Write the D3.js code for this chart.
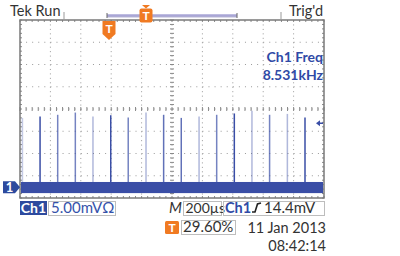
<!DOCTYPE html>
<html>
<head>
<meta charset="utf-8">
<script src="https://cdn.jsdelivr.net/npm/d3@7"></script>
<style>
body { margin: 0; background: #fff; }
svg text { font-family: Lato, "Open Sans", sans-serif; }
</style>
</head>
<body>
<div class="scope"></div>
<script>
// time of each pulse from left screen edge (us) and its peak (mV)
var spikeTimes = [16, 132, 248, 364, 480, 597, 712, 829, 945, 1061, 1178, 1294, 1410, 1526, 1642, 1759, 1875];
var spikePeaks = [15.6, 15.9, 16.3, 16.8, 15.9, 16.2, 15.7, 16.8, 16.3, 15.6, 15.9, 16.3, 16.6, 17.2, 16.3, 16.5, 15.7];
var spikeShade = [0.3, 1, 0.7, 0.7, 0.4, 1, 0.7, 0.4, 0.8, 0.8, 0.4, 0.7, 1, 0.4, 0.7, 0.4, 1];
var noiseBand = [-1.3, 1.2];    // mV
var trigLevel = 14.4;           // mV
var xTicks = d3.range(0, 2001, 200);   // 200us/div
var yTicks = d3.range(-2.4, 38, 5);    // 5mV/div

var W = 400, H = 256;
var blue = "#3a4ea6", orange = "#f07a22", grey = "#8a8a8a";

var svg = d3.select(".scope").append("svg")
    .attr("width", W).attr("height", H);

var x = d3.scaleLinear().domain([0, 2000]).range([20, 324]);
var y = d3.scaleLinear().domain([-2.4, 37.6]).range([198, 20]);

var grid = svg.append("g");

// dotted graticule
xTicks.slice(1, -1).forEach(function(t) {
    grid.append("line")
        .attr("x1", x(t)).attr("x2", x(t))
        .attr("y1", y.range()[1]).attr("y2", y.range()[0])
        .attr("stroke", "#9a9a9a").attr("stroke-width", 1)
        .attr("stroke-dasharray", "1," + (4.45 - 1));
});
yTicks.slice(1, -1).forEach(function(v) {
    grid.append("line")
        .attr("x1", x.range()[0]).attr("x2", x.range()[1])
        .attr("y1", y(v)).attr("y2", y(v))
        .attr("stroke", "#9a9a9a").attr("stroke-width", 1)
        .attr("stroke-dasharray", "1," + (6.08 - 1));
});

// minor ticks on center lines and border
var cx = x(1000), cy = y(17.6);
var minorX = d3.range(0, 2001, 40), minorY = d3.range(-2.4, 37.7, 1);
minorX.forEach(function(t) {
    grid.append("line").attr("x1", x(t)).attr("x2", x(t))
        .attr("y1", cy - 2).attr("y2", cy + 2).attr("stroke", grey);
    grid.append("line").attr("x1", x(t)).attr("x2", x(t))
        .attr("y1", 20).attr("y2", 22).attr("stroke", grey);
    grid.append("line").attr("x1", x(t)).attr("x2", x(t))
        .attr("y1", 196).attr("y2", 198).attr("stroke", grey);
});
minorY.forEach(function(v) {
    grid.append("line").attr("x1", cx - 2).attr("x2", cx + 2)
        .attr("y1", y(v)).attr("y2", y(v)).attr("stroke", grey);
    grid.append("line").attr("x1", 20).attr("x2", 22)
        .attr("y1", y(v)).attr("y2", y(v)).attr("stroke", grey);
    grid.append("line").attr("x1", 322).attr("x2", 324)
        .attr("y1", y(v)).attr("y2", y(v)).attr("stroke", grey);
});
grid.append("rect")
    .attr("x", 20).attr("y", 20).attr("width", 304).attr("height", 178)
    .attr("fill", "none").attr("stroke", "#7a7a7a").attr("stroke-width", 1.5);

// trace
var trace = svg.append("g");
trace.append("rect")
    .attr("x", x(0) + 1).attr("width", x(2000) - x(0) - 2)
    .attr("y", y(noiseBand[1])).attr("height", y(noiseBand[0]) - y(noiseBand[1]))
    .attr("fill", blue);

trace.selectAll(".spike")
    .data(spikeTimes)
    .enter()
    .append("line")
    .attr("class", "spike")
    .attr("x1", function(d) { return x(d); })
    .attr("x2", function(d) { return x(d); })
    .attr("y1", y(noiseBand[1]))
    .attr("y2", function(d, i) { return y(spikePeaks[i]); })
    .attr("stroke", blue)
    .attr("stroke-width", 1.5)
    .attr("stroke-opacity", function(d, i) { return spikeShade[i]; });

// channel 1 ground marker
svg.append("path")
    .attr("d", "M3," + (y(0) - 6) + " L15," + (y(0) - 6) + " L20," + y(0) +
          " L15," + (y(0) + 6) + " L3," + (y(0) + 6) + " Z")
    .attr("fill", "#2d4a9e");
svg.append("text").attr("x", 9.5).attr("y", y(0) + 5)
    .attr("text-anchor", "middle").attr("font-size", 13).attr("font-weight", "bold")
    .attr("fill", "#fff").text("1");

// trigger level arrow
var ty = y(trigLevel);
svg.append("path")
    .attr("d", "M316," + ty + " L320," + (ty - 3) + " L320," + (ty + 3) + " Z")
    .attr("fill", blue);
svg.append("line").attr("x1", 319).attr("x2", 323).attr("y1", ty).attr("y2", ty)
    .attr("stroke", blue).attr("stroke-width", 1.5);

// top bar
svg.append("text").attr("x", 10).attr("y", 16).attr("font-size", 14.5)
    .attr("fill", "#333").text("Tek Run");
svg.append("text").attr("x", 323).attr("y", 16).attr("font-size", 14.5)
    .attr("text-anchor", "end").attr("fill", "#333").text("Trig'd");
[64, 281].forEach(function(px) {
    svg.append("line").attr("x1", px).attr("x2", px).attr("y1", 12).attr("y2", 19)
        .attr("stroke", "#999");
});
svg.append("line").attr("x1", 107).attr("x2", 237).attr("y1", 15.5).attr("y2", 15.5)
    .attr("stroke", "#a9a6d6").attr("stroke-width", 2.5);
svg.append("line").attr("x1", 107).attr("x2", 237).attr("y1", 17).attr("y2", 17)
    .attr("stroke", "#8a87b8").attr("stroke-width", 0.6);
[107, 237].forEach(function(px) {
    svg.append("line").attr("x1", px).attr("x2", px).attr("y1", 13).attr("y2", 18)
        .attr("stroke", "#666");
});

// orange T on record bar
svg.append("path").attr("d", "M142,5 L150,5 L146,8.5 Z").attr("fill", orange);
svg.append("rect").attr("x", 139.5).attr("y", 8.5).attr("width", 13).attr("height", 14)
    .attr("rx", 2).attr("fill", orange);
svg.append("text").attr("x", 146).attr("y", 20).attr("text-anchor", "middle")
    .attr("font-size", 12).attr("font-weight", "bold").attr("fill", "#fff").text("T");

// orange T trigger position
svg.append("path").attr("d", "M102.5,21 L115.5,21 L115.5,34 L109,40 L102.5,34 Z")
    .attr("fill", orange);
svg.append("text").attr("x", 109).attr("y", 33).attr("text-anchor", "middle")
    .attr("font-size", 12).attr("font-weight", "bold").attr("fill", "#fff").text("T");

// measurement readout
svg.append("text").attr("x", 323).attr("y", 62).attr("text-anchor", "end")
    .attr("font-size", 14).attr("font-weight", "bold").attr("fill", "#2f4aa6").text("Ch1 Freq");
svg.append("text").attr("x", 323).attr("y", 80).attr("text-anchor", "end")
    .attr("font-size", 14).attr("font-weight", "bold").attr("fill", "#2f4aa6").text("8.531kHz");

// bottom readouts
function box(x0, y0, w, h) {
    svg.append("rect").attr("x", x0 + 0.5).attr("y", y0 + 0.5).attr("width", w).attr("height", h)
        .attr("fill", "none").attr("stroke", "#bdbdbd");
}
svg.append("rect").attr("x", 20).attr("y", 201).attr("width", 27).attr("height", 14)
    .attr("fill", "#2d4a9e");
svg.append("text").attr("x", 33.5).attr("y", 213).attr("text-anchor", "middle")
    .attr("font-size", 14).attr("font-weight", "bold").attr("fill", "#fff").text("Ch1");
box(48, 201, 67, 14);
svg.append("text").attr("x", 51).attr("y", 213).attr("font-size", 15)
    .attr("fill", "#3552aa").text("5.00mVΩ");

svg.append("text").attr("x", 169).attr("y", 213).attr("font-size", 15)
    .attr("font-style", "italic").attr("fill", "#333").text("M");
box(183, 201, 38, 14);
svg.append("text").attr("x", 185.5).attr("y", 213).attr("font-size", 14)
    .attr("fill", "#333").text("200µs");
box(223, 201, 101, 14);
svg.append("text").attr("x", 225).attr("y", 213).attr("font-size", 14.5)
    .attr("font-weight", "bold").attr("fill", "#2f4aa6").text("Ch1");
svg.append("path").attr("d", "M252,212 L255,212 L257.5,204 L261,203")
    .attr("fill", "none").attr("stroke", "#222").attr("stroke-width", 1.6);
svg.append("text").attr("x", 264).attr("y", 213).attr("font-size", 15)
    .attr("fill", "#333").text("14.4mV");

svg.append("rect").attr("x", 165).attr("y", 221).attr("width", 14).attr("height", 13)
    .attr("rx", 1.5).attr("fill", orange);
svg.append("text").attr("x", 172).attr("y", 232).attr("text-anchor", "middle")
    .attr("font-size", 12).attr("font-weight", "bold").attr("fill", "#fff").text("T");
box(181, 220, 54, 14);
svg.append("text").attr("x", 183).attr("y", 232).attr("font-size", 15)
    .attr("fill", "#333").text("29.60%");

svg.append("text").attr("x", 326).attr("y", 232.5).attr("text-anchor", "end")
    .attr("font-size", 14.5).attr("fill", "#333").text("11 Jan 2013");
svg.append("text").attr("x", 326).attr("y", 250.5).attr("text-anchor", "end")
    .attr("font-size", 14.5).attr("fill", "#333").text("08:42:14");
</script>
</body>
</html>
